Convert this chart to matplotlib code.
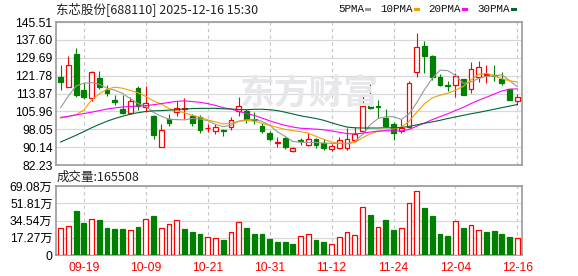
"""东芯股份 日K线 + 成交量."""

import matplotlib
matplotlib.use("Agg")
import matplotlib.pyplot as plt
from matplotlib.patches import Rectangle

dates = ["09-16", "09-17", "09-18", "09-19", "09-22", "09-23", "09-24", "09-25", "09-26", "09-29",
         "09-30", "10-09", "10-10", "10-13", "10-14", "10-15", "10-16", "10-17", "10-20", "10-21",
         "10-22", "10-23", "10-24", "10-27", "10-28", "10-29", "10-30", "10-31", "11-03", "11-04",
         "11-05", "11-06", "11-07", "11-10", "11-11", "11-12", "11-13", "11-14", "11-17", "11-18",
         "11-19", "11-20", "11-21", "11-24", "11-25", "11-26", "11-27", "11-28", "12-01", "12-02",
         "12-03", "12-04", "12-05", "12-08", "12-09", "12-10", "12-11", "12-12", "12-15", "12-16"]

opens = [121.2, 116.9, 131.4, 115.5, 112.0, 120.8, 115.6, 110.8, 107.2, 105.3,
         116.2, 107.7, 104.1, 90.1, 102.4, 105.9, 107.1, 103.9, 103.6, 98.4,
         97.2, 97.9, 98.9, 106.3, 106.3, 102.8, 99.7, 96.6, 92.0, 94.0,
         88.5, 93.3, 91.1, 93.7, 92.0, 89.3, 89.8, 89.8, 93.4, 97.2,
         108.4, 108.3, 103.1, 100.4, 97.1, 99.1, 123.6, 134.9, 130.5, 121.3,
         117.7, 117.6, 120.2, 115.9, 121.2, 122.0, 122.1, 120.2, 115.8, 110.4]
highs = [126.4, 130.5, 134.0, 118.5, 123.8, 124.0, 117.8, 113.1, 113.0, 112.2,
         117.4, 117.2, 104.4, 100.5, 104.8, 110.4, 111.8, 104.6, 104.2, 100.2,
         100.5, 98.2, 103.4, 112.4, 106.9, 105.5, 101.0, 97.2, 94.5, 94.6,
         90.3, 94.3, 96.5, 94.2, 93.6, 91.4, 94.6, 98.4, 99.2, 113.1,
         118.0, 111.0, 106.8, 101.4, 102.6, 119.4, 140.8, 137.2, 130.9, 122.6,
         119.5, 123.0, 120.2, 128.0, 128.2, 126.3, 126.6, 123.6, 115.8, 113.8]
lows = [115.5, 116.6, 112.2, 111.5, 110.5, 115.9, 112.6, 108.7, 104.8, 105.0,
        106.6, 105.8, 93.9, 90.1, 99.4, 103.9, 102.5, 99.5, 96.3, 97.0,
        95.9, 95.0, 97.9, 103.7, 100.6, 100.3, 96.5, 93.0, 90.4, 89.4,
        88.1, 91.2, 90.6, 89.7, 89.0, 88.6, 89.3, 89.0, 92.3, 97.0,
        107.1, 103.2, 99.1, 93.4, 96.3, 98.8, 121.1, 122.8, 119.9, 117.3,
        114.8, 112.3, 113.0, 114.3, 119.0, 118.6, 119.2, 117.5, 110.8, 108.6]
closes = [118.8, 126.3, 113.3, 112.2, 123.4, 116.6, 114.3, 110.3, 105.1, 110.6,
          108.4, 109.5, 95.7, 97.8, 100.8, 107.6, 107.4, 101.0, 97.8, 98.7,
          99.2, 97.2, 102.3, 108.2, 102.4, 102.3, 97.1, 93.6, 92.3, 90.4,
          89.6, 93.0, 93.7, 91.3, 89.8, 90.5, 93.4, 93.6, 95.9, 108.5,
          107.4, 107.7, 99.7, 96.6, 98.6, 118.7, 134.3, 130.6, 121.1, 117.7,
          117.3, 121.8, 113.3, 124.6, 125.8, 122.3, 121.8, 118.5, 110.8, 112.3]

ma5 = [107.6, 112.8, 117.2, 118.4, 118.7, 118.0, 116.2, 115.3, 113.9, 111.6,
       109.4, 108.2, 105.5, 103.8, 102.5, 102.3, 102.2, 102.8, 102.6, 101.8,
       100.2, 99.2, 99.8, 101.6, 102.3, 102.3, 101.6, 99.8, 96.9, 94.9,
       92.6, 92.3, 92.2, 92.2, 91.9, 91.8, 91.8, 91.8, 92.6, 95.8,
       100.0, 102.8, 103.6, 103.6, 102.4, 104.8, 109.8, 115.6, 120.5, 124.2,
       124.0, 121.9, 118.4, 119.0, 120.5, 121.5, 121.5, 122.2, 119.6, 116.8]
ma10 = [103.0, 103.6, 104.5, 106.6, 111.0, 113.7, 115.8, 116.7, 116.2, 115.2,
        114.2, 112.6, 110.6, 109.2, 107.2, 106.2, 105.4, 104.2, 103.4, 102.2,
        101.3, 100.4, 100.6, 101.6, 101.9, 101.6, 100.7, 99.7, 98.9, 98.0,
        97.4, 97.0, 96.3, 94.9, 93.6, 92.4, 91.8, 91.6, 92.2, 94.3,
        96.0, 97.2, 97.6, 98.3, 99.0, 101.5, 105.6, 109.3, 111.9, 113.1,
        114.0, 115.3, 117.0, 119.8, 122.3, 122.8, 121.8, 120.4, 119.5, 119.0]
ma20 = [103.3, 103.8, 104.4, 105.0, 105.6, 106.3, 107.0, 107.5, 107.9, 108.1,
        108.3, 108.5, 108.9, 109.4, 109.9, 110.4, 110.6, 110.3, 110.0, 109.4,
        108.6, 107.6, 107.0, 106.0, 105.0, 104.2, 103.0, 101.8, 100.7, 99.8,
        99.0, 98.5, 98.3, 98.1, 97.8, 97.3, 96.7, 96.1, 96.0, 96.3,
        96.8, 97.2, 97.4, 97.3, 97.3, 97.9, 99.4, 100.8, 102.3, 103.6,
        104.9, 106.3, 107.7, 109.4, 110.9, 112.2, 113.6, 115.0, 115.8, 115.9]
ma30 = [92.4, 93.9, 95.4, 97.0, 98.7, 100.2, 101.6, 102.8, 103.8, 104.7,
        105.4, 105.9, 106.2, 106.3, 106.5, 106.7, 107.0, 107.2, 107.3, 107.3,
        107.3, 107.1, 107.0, 106.8, 106.7, 106.9, 106.9, 106.7, 106.3, 105.6,
        104.8, 104.0, 103.4, 102.8, 102.0, 100.9, 99.9, 99.0, 98.7, 98.6,
        98.6, 98.6, 98.7, 98.7, 98.8, 99.3, 100.0, 100.7, 101.3, 102.0,
        102.8, 103.5, 104.2, 104.9, 105.5, 106.2, 106.9, 107.6, 108.3, 109.0]

# 成交量 (万), 颜色按涨跌
volumes = [26.9, 28.6, 44.2, 31.9, 35.9, 35.2, 26.9, 26.2, 26.2, 25.2,
           27.9, 35.9, 39.2, 26.9, 30.9, 35.2, 26.2, 23.2, 21.3, 17.9,
           16.9, 15.3, 22.9, 32.9, 26.9, 21.3, 21.3, 16.3, 13.3, 13.3,
           11.3, 19.3, 20.9, 15.3, 13.3, 11.0, 17.9, 22.6, 19.9, 47.8,
           40.2, 27.9, 35.2, 25.2, 26.9, 51.8, 63.8, 47.2, 39.2, 20.9,
           19.3, 34.2, 26.9, 29.9, 25.2, 23.2, 24.2, 21.3, 17.9, 16.5508]
vol_up = [1, 1, 0, 0, 1, 0, 0, 0, 0, 1,
          0, 1, 0, 1, 1, 1, 0, 0, 0, 1,
          1, 0, 1, 1, 0, 0, 0, 0, 0, 0,
          0, 1, 1, 0, 0, 1, 1, 1, 1, 1,
          0, 1, 0, 0, 1, 1, 1, 0, 0, 0,
          0, 1, 0, 1, 1, 0, 0, 0, 0, 1]

price_ticks = [82.23, 90.14, 98.05, 105.96, 113.87, 121.78, 129.69, 137.60, 145.51]
vol_ticks = [0, 17.27, 34.54, 51.81, 69.08]
vol_tick_labels = ["0", "17.27万", "34.54万", "51.81万", "69.08万"]
ma_names = ["5PMA", "10PMA", "20PMA", "30PMA"]

RED = "#ff0000"
GREEN = "#008000"
MA_COLORS = ["#999999", "#f0a000", "#ff00ff", "#006633"]
SPINE = "#9a9a9a"
GRID = "#d8d8d8"
W, H = 578, 276

cjk = ["Noto Sans CJK SC", "DejaVu Sans"]
num = ["Liberation Sans", "Noto Sans CJK SC"]

fig = plt.figure(figsize=(W / 100, H / 100), dpi=100)
ax = fig.add_axes([56 / W, 1 - 165 / H, 466 / W, 143 / H])
axv = fig.add_axes([56 / W, 1 - 255 / H, 466 / W, 69 / H])

x = list(range(len(dates)))
tick_idx = x[3::8]

for a in (ax, axv):
    a.set_xlim(-0.6, len(dates) - 0.4)
    for s in a.spines.values():
        s.set_color(SPINE)
        s.set_linewidth(1.2)
    a.tick_params(length=0, pad=2.5, labelsize=8.7)
    for t in tick_idx:
        a.axvline(t, color="#c4c4c4", lw=0.8, ls=(0, (3, 3)), zorder=0)

# 价格面板
ax.set_ylim(82.23, 145.51)
ax.set_yticks(price_ticks)
ax.set_yticklabels([f"{v:.2f}" for v in price_ticks], family=num)
ax.yaxis.grid(True, color=GRID, lw=0.9, zorder=0)
ax.set_xticks([])

# 水印
fig.text(240 / W, 1 - 93 / H, "东方财富", ha="left", va="center",
         fontsize=25, fontweight="bold", color="#e7e7eb", family=cjk, zorder=0.5)

for i in x:
    up = closes[i] > opens[i] or (closes[i] == opens[i] and vol_up[i])
    col = RED if up else GREEN
    lo_b, hi_b = min(opens[i], closes[i]), max(opens[i], closes[i])
    ax.vlines(i, lows[i], highs[i], color=col, lw=0.8, zorder=2)
    ax.bar(i, max(hi_b - lo_b, 0.05), bottom=lo_b, width=0.62,
           facecolor="white" if up else GREEN, edgecolor=col, lw=0.9, zorder=3)

for vals, c in zip([ma5, ma10, ma20, ma30], MA_COLORS):
    ax.plot(x, vals, color=c, lw=0.8, zorder=4)

# 成交量面板
axv.set_ylim(0, 69.08)
axv.set_yticks(vol_ticks)
axv.set_yticklabels(vol_tick_labels, family=num)
axv.yaxis.grid(True, color=GRID, lw=0.9, zorder=0)
axv.set_xticks(tick_idx)
axv.set_xticklabels([dates[i] for i in tick_idx], color=RED, family=num)
axv.tick_params(axis="x", pad=5)
for i in x:
    up = vol_up[i]
    axv.bar(i, volumes[i], width=0.62, facecolor="white" if up else GREEN,
            edgecolor=RED if up else GREEN, lw=0.9, zorder=3)

# 标题与图例
fig.text(56 / W, 1 - 9 / H, "东芯股份[688110] 2025-12-16 15:30", family=cjk,
         fontsize=9, va="center", ha="left", color="#222222")
fig.text(57 / W, 1 - 177 / H, f"成交量:{round(volumes[-1] * 10000)}", family=cjk,
         fontsize=9, va="center", ha="left", color="#222222")

lx = 338
for name, c in zip(ma_names, MA_COLORS):
    fig.text(lx / W, 1 - 9 / H, name, family="Liberation Mono", fontsize=7.8,
             va="center", ha="left", color="#111111")
    lx += 6.5 * len(name) + 1
    fig.add_artist(Rectangle((lx / W, 1 - 11 / H), 6 / W, 3 / H, transform=fig.transFigure,
                             facecolor=c, edgecolor="none"))
    lx += 15

fig.savefig("out.png", dpi=100)
